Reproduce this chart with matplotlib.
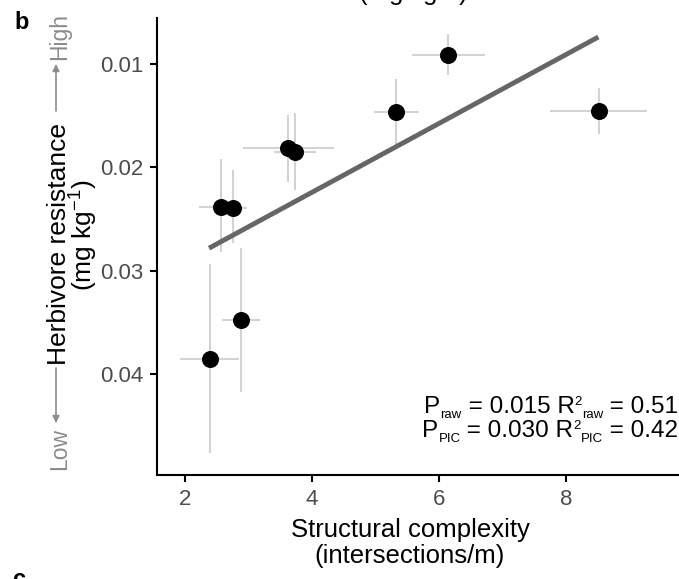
import matplotlib
matplotlib.use("Agg")
import matplotlib.pyplot as plt
from matplotlib.patches import FancyArrowPatch
import numpy as np

plt.rcParams['font.family'] = ['Liberation Sans', 'DejaVu Sans']
plt.rcParams['mathtext.fontset'] = 'custom'
plt.rcParams['mathtext.rm'] = 'Liberation Sans'
plt.rcParams['mathtext.it'] = 'Liberation Sans:italic'
plt.rcParams['mathtext.bf'] = 'Liberation Sans:bold'

# Species means with ranges for complexity (x) and herbivore resistance (y)
complexity = [2.39, 2.89, 2.56, 2.75, 3.63, 3.73, 5.33, 6.15, 8.52]
complexity_lo = [1.92, 2.59, 2.22, 2.45, 2.92, 3.40, 4.98, 5.58, 7.75]
complexity_hi = [2.85, 3.18, 2.85, 2.97, 4.35, 4.06, 5.68, 6.72, 9.28]
resistance = [0.0386, 0.0348, 0.0238, 0.0239, 0.0181, 0.0185, 0.0146, 0.0091, 0.0145]
resistance_lo = [0.0294, 0.0278, 0.0192, 0.0203, 0.0149, 0.0147, 0.0114, 0.0071, 0.0123]
resistance_hi = [0.0477, 0.0418, 0.0282, 0.0273, 0.0214, 0.0222, 0.0177, 0.0111, 0.0168]

# Fitted regression line
fit_intercept = 0.03577
fit_slope = -0.003336
fit_range = [2.38, 8.51]

x_ticks = [2, 4, 6, 8]
y_ticks = [0.01, 0.02, 0.03, 0.04]
y_ticklabels = ["0.01", "0.02", "0.03", "0.04"]

# Statistics shown in the corner: (text, role) pieces per line
stats_raw = [("P", "n"), ("raw", "sub"), (" = 0.015 R", "n"), ("2", "sup"),
             ("raw", "sub"), (" = 0.51", "n")]
stats_pic = [("P", "n"), ("PIC", "sub"), (" = 0.030 R", "n"), ("2", "sup"),
             ("PIC", "sub"), (" = 0.42", "n")]

W, H = 679, 579
fig = plt.figure(figsize=(W / 100, H / 100), dpi=100)
ax = fig.add_axes([157 / W, (H - 475) / H, (W - 157) / W, (475 - 18) / H])


def fx(px):
    return px / W


def fy(py):
    return 1 - py / H


x = np.array(complexity)
y = np.array(resistance)
xerr = np.vstack([x - np.array(complexity_lo), np.array(complexity_hi) - x])
yerr = np.vstack([y - np.array(resistance_lo), np.array(resistance_hi) - y])

ax.errorbar(x, y, xerr=xerr, yerr=yerr, fmt='none', ecolor='#d3d3d3',
            elinewidth=1.5, capsize=0, zorder=1)
line_x = np.array(fit_range)
ax.plot(line_x, fit_intercept + fit_slope * line_x, color='#666666', lw=3.5,
        solid_capstyle='butt', zorder=2)
ax.scatter(x, y, s=150, color='black', zorder=3, linewidths=0)

ax.set_xlim(1.56, 9.78)
ax.set_ylim(0.0498, 0.00554)
ax.set_xticks(x_ticks)
ax.set_yticks(y_ticks)
ax.set_yticklabels(y_ticklabels)

for side in ['top', 'right']:
    ax.spines[side].set_visible(False)
for side in ['left', 'bottom']:
    ax.spines[side].set_linewidth(1.5)
ax.tick_params(axis='both', length=5, width=1.5, color='black',
               labelcolor='#4d4d4d', labelsize=16, pad=5)


def rich_line(parts, right_px, base_px, size=17.5, small=9.5):
    """Lay out text pieces right-to-left so the line ends at right_px."""
    yb = fy(base_px)
    prev = None
    for text, role in reversed(parts):
        fs = size if role == "n" else small
        dy = {"n": 0, "sub": -3.8, "sup": 5.8}[role]
        if prev is None:
            xy, xyc = (fx(right_px), yb), 'figure fraction'
        else:
            xy, xyc = (0, yb), (prev, 'figure fraction')
        prev = fig.add_artist(plt.Annotation(
            text, xy=xy, xycoords=xyc, xytext=(0, dy),
            textcoords='offset points', ha='right', va='baseline',
            fontsize=fs, color='black'))


rich_line(stats_raw, 678, 413)
rich_line(stats_pic, 678, 437)

# X-axis title
fig.text(fx(410), fy(537), "Structural complexity", fontsize=18.5,
         ha='center', va='baseline')
fig.text(fx(410), fy(563), "(intersections/m)", fontsize=18.5,
         ha='center', va='baseline')

# Y-axis title with low/high direction cues
gray = '#8c8c8c'
fig.text(fx(66), fy(244), "Herbivore resistance", rotation=90,
         rotation_mode='anchor', ha='center', va='baseline', fontsize=19)
fig.text(fx(93), fy(235), "(mg kg$^{-1}$)", rotation=90,
         rotation_mode='anchor', ha='center', va='baseline', fontsize=19)
fig.text(fx(66), fy(449), "Low", rotation=90, rotation_mode='anchor',
         ha='center', va='baseline', fontsize=16.5, color=gray)
fig.text(fx(66), fy(36), "High", rotation=90, rotation_mode='anchor',
         ha='center', va='baseline', fontsize=16.5, color=gray)
for tail, head in [(368, 423), (111, 64)]:
    fig.patches.append(FancyArrowPatch(
        (fx(56), fy(tail)), (fx(56), fy(head)), transform=fig.transFigure,
        arrowstyle='-|>,head_length=4,head_width=2', color=gray, lw=1.2,
        shrinkA=0, shrinkB=0))

# Panel letters and the neighbouring panel's edge labels
fig.text(fx(14), fy(11), "b", fontsize=17, fontweight='bold',
         ha='left', va='top')
fig.text(fx(12), fy(586), "c", fontsize=17, fontweight='bold',
         ha='left', va='baseline')
fig.text(fx(413), fy(2), "(mg kg$^{-1}$)", fontsize=18.5,
         ha='center', va='baseline')

fig.savefig("out.png", dpi=100)
